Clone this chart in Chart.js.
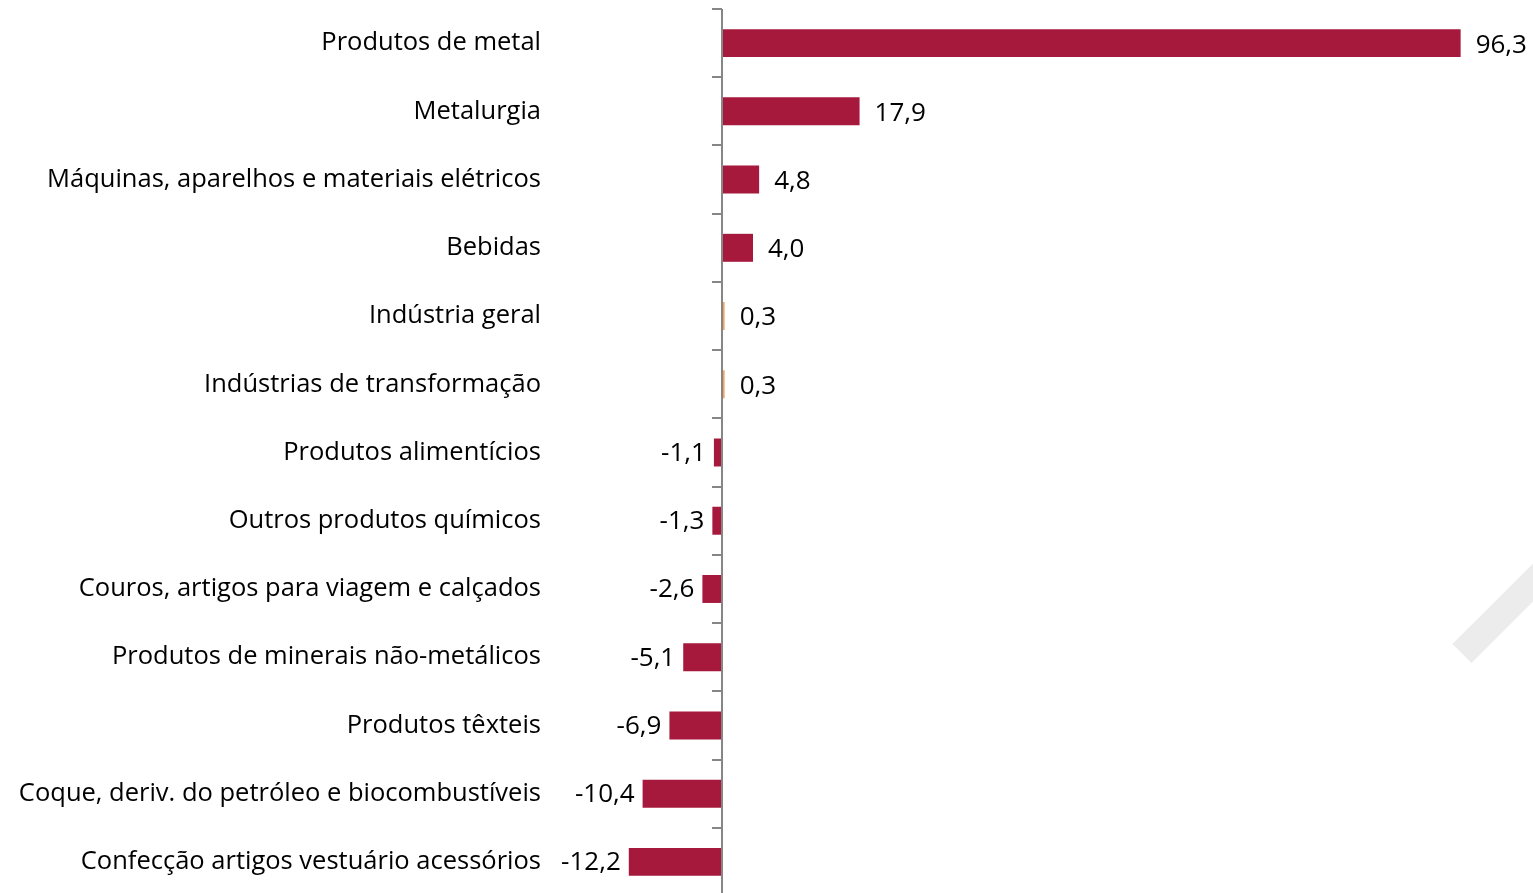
<!DOCTYPE html>
<html>
<head>
<meta charset="utf-8">
<script src="https://cdn.jsdelivr.net/npm/chart.js@4/dist/chart.umd.min.js"></script>
<style>
html,body{margin:0;padding:0;background:#fff;overflow:hidden;width:1533px;height:893px;}
#wrap{position:relative;width:1533px;height:897px;}
#wm{position:absolute;left:1462px;top:640px;width:160px;height:27px;background:#ececec;transform-origin:0 50%;transform:rotate(-45deg);}
canvas{position:absolute;left:0;top:0;}
</style>
</head>
<body>
<div id="wrap">
<div id="wm"></div>
<canvas id="c" width="1533" height="897"></canvas>
</div>
<script>
const categories = [
  "Produtos de metal",
  "Metalurgia",
  "Máquinas, aparelhos e materiais elétricos",
  "Bebidas",
  "Indústria geral",
  "Indústrias de transformação",
  "Produtos alimentícios",
  "Outros produtos químicos",
  "Couros, artigos para viagem e calçados",
  "Produtos de minerais não-metálicos",
  "Produtos têxteis",
  "Coque, deriv. do petróleo e biocombustíveis",
  "Confecção artigos vestuário acessórios"
];
const values = [96.3, 17.9, 4.8, 4.0, 0.3, 0.3, -1.1, -1.3, -2.6, -5.1, -6.9, -10.4, -12.2];
const highlight = [false, false, false, false, true, true, false, false, false, false, false, false, false];
const mainColor = '#A6193C';
const highlightColor = '#F4A460';
const FONT = "'Open Sans', sans-serif";

const zeroAxis = {
  id: 'zeroAxis',
  afterDatasetsDraw(chart) {
    const ctx = chart.ctx, x = chart.scales.x, y = chart.scales.y;
    const x0 = Math.round(x.getPixelForValue(0));
    ctx.save();
    ctx.strokeStyle = '#868686';
    ctx.lineWidth = 2;
    ctx.beginPath();
    ctx.moveTo(x0, chart.chartArea.top);
    ctx.lineTo(x0, chart.chartArea.bottom);
    for (let i = 0; i <= categories.length; i++) {
      const yy = Math.round(y.getPixelForValue(i - 0.5));
      ctx.moveTo(x0 - 10, yy);
      ctx.lineTo(x0, yy);
    }
    ctx.stroke();
    ctx.restore();
  }
};

const valueLabels = {
  id: 'valueLabels',
  afterDatasetsDraw(chart) {
    const ctx = chart.ctx;
    const meta = chart.getDatasetMeta(0);
    ctx.save();
    ctx.font = "26px " + FONT;
    ctx.fillStyle = '#000';
    ctx.textBaseline = 'middle';
    meta.data.forEach((bar, i) => {
      const v = values[i];
      const txt = v.toFixed(1).replace('.', ',');
      if (v >= 0) {
        ctx.textAlign = 'left';
        ctx.fillText(txt, bar.x + 15, bar.y + 2);
      } else {
        ctx.textAlign = 'right';
        ctx.fillText(txt, bar.x - 8, bar.y + 1);
      }
    });
    ctx.restore();
  }
};

new Chart(document.getElementById('c'), {
  type: 'bar',
  data: {
    labels: categories,
    datasets: [{
      data: values,
      backgroundColor: values.map((v, i) => highlight[i] ? highlightColor : mainColor),
      borderWidth: 0,
      barPercentage: 0.82,
      categoryPercentage: 0.5
    }]
  },
  options: {
    indexAxis: 'y',
    responsive: false,
    animation: false,
    layout: { padding: { top: 9, bottom: 1, left: 0, right: 44 } },
    plugins: { legend: { display: false }, tooltip: { enabled: false } },
    scales: {
      x: { display: false, min: -20, max: 100 },
      y: {
        afterFit(scale) {
          scale.width = 569;
          scale.paddingTop = 0; scale.paddingBottom = 0;
          scale.paddingLeft = 0; scale.paddingRight = 0;
        },
        grid: { display: false, drawTicks: false },
        border: { display: false },
        ticks: { color: '#000', padding: 28, font: { family: FONT, size: 25.5 } }
      }
    }
  },
  plugins: [zeroAxis, valueLabels]
});
</script>
</body>
</html>
